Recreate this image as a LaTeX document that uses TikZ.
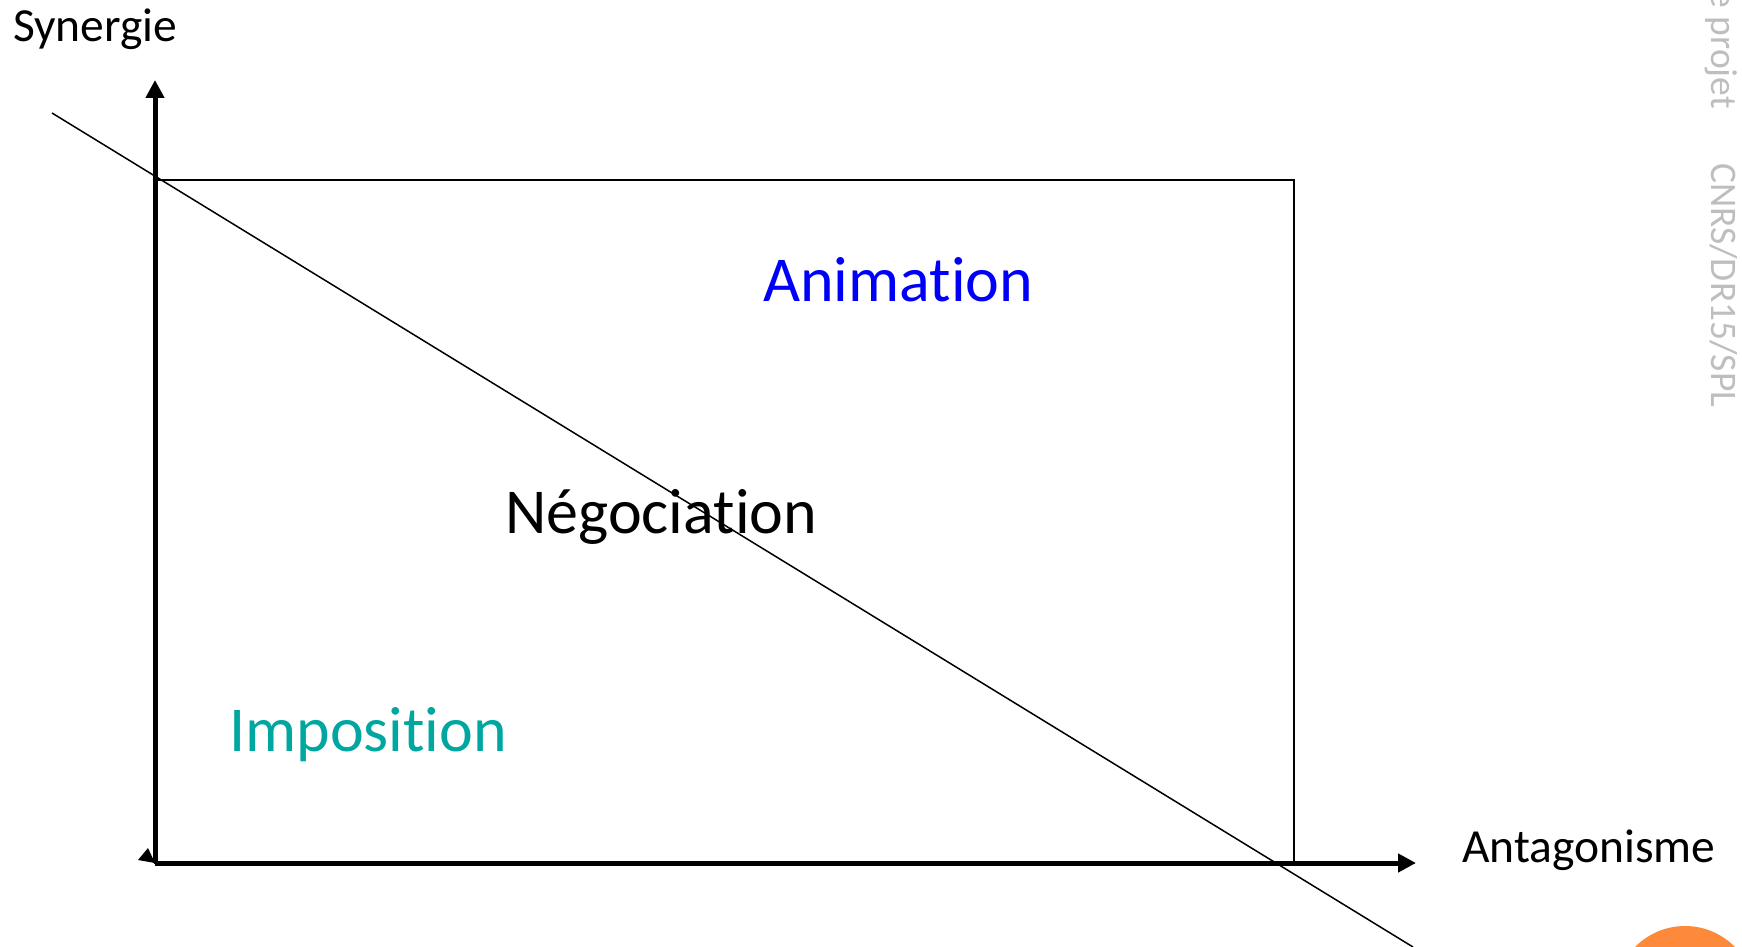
\documentclass[tikz,border=0pt]{standalone}
\usepackage{fontspec}
\setmainfont{Carlito}[Ligatures=NoCommon]
\usetikzlibrary{arrows.meta}
\definecolor{animblue}{RGB}{0,0,250}
\definecolor{impteal}{RGB}{0,166,160}
\definecolor{wmgray}{RGB}{190,190,190}
\definecolor{dotorange}{RGB}{253,138,58}
\newcommand{\nolig}{\kern0pt }
\tikzset{
  axis/.style={line width=5pt, -{Triangle[width=18pt,length=18pt]}},
  thin line/.style={line width=1.5pt},
  lbl/.style={inner sep=0pt, anchor=base west, font=\fontsize{64}{70}\selectfont},
  axlbl/.style={inner sep=0pt, anchor=base west, font=\fontsize{47.5}{54}\selectfont},
  wm/.style={inner sep=0pt, text=wmgray, font=\fontsize{37.5}{44}\selectfont, rotate=-90}
}
\begin{document}
\begin{tikzpicture}[x=1pt,y=-1pt]
\useasboundingbox (0,0) rectangle (1742,947);
\coordinate (O) at (155,863);
\coordinate (ytip) at (155,80);
\coordinate (xtip) at (1416,863);
\coordinate (rtl) at (155,180);
\coordinate (rbr) at (1294,863);
\coordinate (dstart) at (52,113);
\coordinate (dend) at (1413,947);
% rectangle
\draw[thin line] (rtl) rectangle (rbr);
% diagonal
\draw[thin line] (dstart) -- (dend);
% axes
\draw[axis] (O) -- (ytip);
\draw[axis] (O) -- (xtip);
\fill (138,860) -- (148,848) -- (155,863) -- cycle;
% labels
\node[axlbl] (syn) at (13,42) {Synergie};
\node[axlbl] (ant) at (1462,862) {Antagonisme};
\node[lbl, text=animblue] (anim) at (763,301) {Animat\nolig ion};
\node[lbl] (neg) at (505,533) {Négociat\nolig ion};
\node[lbl, text=impteal] (imp) at (229,751) {Imposit\nolig ion};
% watermark
\node[wm, anchor=base east] (wm1) at (1711,109) {e projet};
\node[wm, anchor=base west] (wm2) at (1711,163) {CNRS/DR15/SPL};
% orange dot
\fill[dotorange] (1685,996) circle (70);
\end{tikzpicture}
\end{document}
